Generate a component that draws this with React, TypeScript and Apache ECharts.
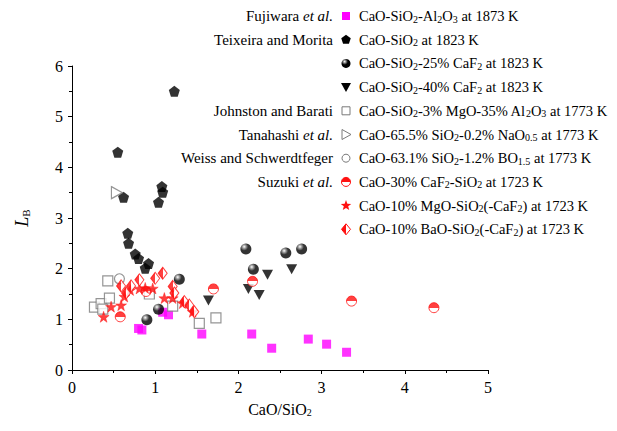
import React, { useEffect, useRef } from 'react';
import * as echarts from 'echarts';

// ---- data (CaO/SiO2, L_B) ----
const fujiwara = [[0.80, 0.82], [0.84, 0.79], [1.09, 1.14], [1.16, 1.09], [1.56, 0.71], [2.16, 0.71], [2.40, 0.43], [2.84, 0.61], [3.06, 0.51], [3.30, 0.35]];
const teixeira = [[0.55, 4.30], [0.62, 3.41], [0.67, 2.70], [0.68, 2.50], [0.76, 2.29], [0.80, 2.20], [0.92, 2.10], [0.88, 2.01], [1.04, 3.31], [1.08, 3.62], [1.09, 3.51], [1.23, 5.50]];
const caf25 = [[0.90, 0.99], [1.04, 1.20], [1.29, 1.79], [2.09, 2.39], [2.18, 1.99], [2.57, 2.31], [2.76, 2.39]];
const caf40 = [[1.64, 1.37], [2.12, 1.60], [2.25, 1.48], [2.35, 1.88], [2.64, 1.99]];
const johnston = [[0.27, 1.24], [0.35, 1.31], [0.37, 1.20], [0.45, 1.42], [0.43, 1.76], [0.93, 1.50], [1.21, 1.26], [1.53, 0.92], [1.73, 1.03]];
const tanahashi = [[0.54, 3.50]];
const weiss = [[0.57, 1.80]];
const suzuki = [[0.58, 1.05], [0.89, 1.55], [1.70, 1.60], [2.17, 1.75], [3.36, 1.36], [4.35, 1.23]];
const mgoStars = [[0.38, 1.05], [0.47, 1.25], [0.59, 1.28], [0.63, 1.45], [0.70, 1.58], [0.81, 1.61], [0.88, 1.62], [0.97, 1.61], [1.11, 1.42], [1.21, 1.42], [1.33, 1.32], [1.45, 1.15]];
const baoDiamonds = [[0.59, 1.66], [0.65, 1.52], [0.71, 1.66], [0.81, 1.78], [1.00, 1.81], [1.09, 1.91], [1.21, 1.65], [1.23, 1.52], [1.35, 1.35], [1.41, 1.28], [1.47, 1.15]];

const authors = ['Fujiwara {it|et al.}', 'Teixeira and Morita', '', '', 'Johnston and Barati', 'Tanahashi {it|et al.}', 'Weiss and Schwerdtfeger', 'Suzuki {it|et al.}', '', ''];
const labels = [
  'CaO-SiO{s|2}-Al{s|2}O{s|3} at 1873 K',
  'CaO-SiO{s|2} at 1823 K',
  'CaO-SiO{s|2}-25% CaF{s|2} at 1823 K',
  'CaO-SiO{s|2}-40% CaF{s|2} at 1823 K',
  'CaO-SiO{s|2}-3% MgO-35% Al{s|2}O{s|3} at 1773 K',
  'CaO-65.5% SiO{s|2}-0.2% NaO{s|0.5} at 1773 K',
  'CaO-63.1% SiO{s|2}-1.2% BO{s|1.5} at 1773 K',
  'CaO-30% CaF{s|2}-SiO{s|2} at 1723 K',
  'CaO-10% MgO-SiO{s|2}(-CaF{s|2}) at 1723 K',
  'CaO-10% BaO-SiO{s|2}(-CaF{s|2}) at 1723 K',
];
const xTicks = [0, 1, 2, 3, 4, 5];
const yTicks = [0, 1, 2, 3, 4, 5, 6];

const FONT = '"Liberation Serif", "Times New Roman", serif';
const RED = '#ff1010';
const GREY = '#7a7a7a';

const PENT = 'path://M5,0 L9.76,3.45 L7.94,9.05 L2.06,9.05 L0.24,3.45 Z';
const STAR = 'path://M50,0 L61.8,35 L98,35 L69,57 L79.4,91 L50,70 L20.6,91 L31,57 L2,35 L38.2,35 Z';
const DOWNTRI = 'path://M0,0 L10,0 L5,9 Z';
const RIGHTTRI = 'path://M0,0 L10,5 L0,10 Z';

const ballGrad = () => new echarts.graphic.RadialGradient(0.35, 0.3, 0.6, [
  { offset: 0, color: '#ffffff' }, { offset: 0.3, color: '#777' }, { offset: 0.6, color: '#000' }, { offset: 1, color: '#000' },
]);
const halfV = () => new echarts.graphic.LinearGradient(0, 0, 0, 1, [
  { offset: 0, color: RED }, { offset: 0.5, color: RED }, { offset: 0.5, color: '#fff' }, { offset: 1, color: '#fff' },
]);
const halfH = () => new echarts.graphic.LinearGradient(0, 0, 1, 0, [
  { offset: 0, color: RED }, { offset: 0.5, color: RED }, { offset: 0.5, color: '#fff' }, { offset: 1, color: '#fff' },
]);

function polyPts(cx: number, cy: number, r: number, n: number, rot: number, inner?: number) {
  const pts: number[][] = [];
  const m = inner ? n * 2 : n;
  for (let i = 0; i < m; i++) {
    const a = rot + (i * 2 * Math.PI) / m;
    const rr = inner && i % 2 === 1 ? inner : r;
    pts.push([cx + rr * Math.cos(a), cy + rr * Math.sin(a)]);
  }
  return pts;
}

export default function App() {
  const ref = useRef<HTMLDivElement>(null);
  useEffect(() => {
    const chart = echarts.init(ref.current!, null, { renderer: 'svg' });
    const rowY = (i: number) => 16 + i * 23.7;
    const symX = 346;
    const richFor = (size: number) => ({
      s: { fontSize: Math.round(size * 0.66), lineHeight: 9, verticalAlign: 'bottom', fontFamily: FONT, fill: '#000', color: '#000' },
      it: { fontStyle: 'italic', fontSize: size, fontFamily: FONT, fill: '#000', color: '#000' },
    });
    const graphic: any[] = [];
    labels.forEach((t, i) => {
      graphic.push({
        type: 'text', x: 359, y: rowY(i),
        style: { text: t, fontSize: 14.5, lineHeight: 16, fontFamily: FONT, fill: '#000', align: 'left', verticalAlign: 'middle', textAlign: 'left', textVerticalAlign: 'middle', rich: richFor(14.5) },
      });
      if (authors[i]) {
        graphic.push({
          type: 'text', x: 333, y: rowY(i),
          style: { text: authors[i], fontSize: 15, lineHeight: 16, fontFamily: FONT, fill: '#000', align: 'right', verticalAlign: 'middle', textAlign: 'right', textVerticalAlign: 'middle', rich: richFor(15) },
        });
      }
    });
    // legend symbols
    graphic.push({ type: 'rect', shape: { x: symX - 4, y: rowY(0) - 4, width: 8, height: 8 }, style: { fill: '#ff00ff' } });
    graphic.push({ type: 'polygon', shape: { points: polyPts(symX, rowY(1), 5, 5, -Math.PI / 2) }, style: { fill: '#000' } });
    graphic.push({ type: 'circle', shape: { cx: symX, cy: rowY(2), r: 4.5 }, style: { fill: ballGrad() } });
    graphic.push({ type: 'polygon', shape: { points: [[symX - 5, rowY(3) - 4], [symX + 5, rowY(3) - 4], [symX, rowY(3) + 5]] }, style: { fill: '#000' } });
    graphic.push({ type: 'rect', shape: { x: symX - 4, y: rowY(4) - 4, width: 8, height: 8 }, style: { fill: '#fff', stroke: GREY, lineWidth: 1 } });
    graphic.push({ type: 'polygon', shape: { points: [[symX - 4, rowY(5) - 5], [symX + 5, rowY(5)], [symX - 4, rowY(5) + 5]] }, style: { fill: '#fff', stroke: GREY, lineWidth: 1 } });
    graphic.push({ type: 'circle', shape: { cx: symX, cy: rowY(6), r: 4 }, style: { fill: '#fff', stroke: GREY, lineWidth: 1 } });
    graphic.push({ type: 'circle', shape: { cx: symX, cy: rowY(7), r: 4.5 }, style: { fill: halfV(), stroke: RED, lineWidth: 1 } });
    graphic.push({ type: 'polygon', shape: { points: polyPts(symX, rowY(8), 5.5, 5, -Math.PI / 2, 2.3) }, style: { fill: RED } });
    graphic.push({ type: 'polygon', shape: { points: [[symX, rowY(9) - 5.5], [symX + 4.5, rowY(9)], [symX, rowY(9) + 5.5], [symX - 4.5, rowY(9)]] }, style: { fill: halfH(), stroke: RED, lineWidth: 1 } });

    const option: any = {
      animation: false,
      backgroundColor: '#fff',
      grid: { left: 72, right: 129, top: 66, bottom: 61, containLabel: false },
      xAxis: {
        type: 'value', min: xTicks[0], max: xTicks[xTicks.length - 1], interval: 1,
        name: 'CaO/SiO{s|2}', nameLocation: 'middle', nameGap: 31,
        nameTextStyle: { fontFamily: FONT, fontSize: 16, color: '#000', rich: { s: { fontSize: 10, verticalAlign: 'bottom', lineHeight: 10, fontFamily: FONT, color: '#000' } } },
        axisLine: { show: true, lineStyle: { color: '#000', width: 1 } },
        axisTick: { show: true, length: 4, lineStyle: { color: '#000' } },
        minorTick: { show: true, splitNumber: 2, length: 3, lineStyle: { color: '#000' } },
        axisLabel: { fontFamily: FONT, fontSize: 16, color: '#000', margin: 9 },
        splitLine: { show: false },
      },
      yAxis: {
        type: 'value', min: yTicks[0], max: yTicks[yTicks.length - 1], interval: 1,
        name: '{i|L}{s|B}', nameLocation: 'middle', nameGap: 41, nameRotate: 90,
        nameTextStyle: {
          fontFamily: FONT, fontSize: 18, color: '#000',
          rich: {
            i: { fontStyle: 'italic', fontSize: 18, fontFamily: FONT, color: '#000' },
            s: { fontSize: 11, verticalAlign: 'bottom', lineHeight: 11, fontFamily: FONT, color: '#000' },
          },
        },
        axisLine: { show: true, lineStyle: { color: '#000', width: 1 } },
        axisTick: { show: true, length: 4, lineStyle: { color: '#000' } },
        minorTick: { show: true, splitNumber: 2, length: 3, lineStyle: { color: '#000' } },
        axisLabel: { fontFamily: FONT, fontSize: 16, color: '#000', margin: 9 },
        splitLine: { show: false },
      },
      graphic,
      series: [
        { name: 'Fujiwara', type: 'scatter', data: fujiwara, symbol: 'rect', symbolSize: 9, itemStyle: { color: '#ff00ff' } },
        { name: 'Teixeira', type: 'scatter', data: teixeira, symbol: PENT, symbolSize: 11, itemStyle: { color: '#000' } },
        { name: 'CaF2 25', type: 'scatter', data: caf25, symbol: 'circle', symbolSize: 11, itemStyle: { color: ballGrad() } },
        { name: 'CaF2 40', type: 'scatter', data: caf40, symbol: DOWNTRI, symbolSize: [11, 10], itemStyle: { color: '#000' } },
        { name: 'Johnston', type: 'scatter', data: johnston, symbol: 'rect', symbolSize: 10, itemStyle: { color: '#fff', borderColor: GREY, borderWidth: 1.2 } },
        { name: 'Tanahashi', type: 'scatter', data: tanahashi, symbol: RIGHTTRI, symbolSize: [11, 12], itemStyle: { color: '#fff', borderColor: GREY, borderWidth: 1.2 } },
        { name: 'Weiss', type: 'scatter', data: weiss, symbol: 'circle', symbolSize: 10, itemStyle: { color: '#fff', borderColor: GREY, borderWidth: 1.2 } },
        { name: 'Suzuki', type: 'scatter', data: suzuki, symbol: 'circle', symbolSize: 10, itemStyle: { color: halfV(), borderColor: RED, borderWidth: 1 } },
        { name: 'MgO', type: 'scatter', data: mgoStars, symbol: STAR, symbolSize: 11, itemStyle: { color: RED, borderColor: RED, borderWidth: 0.5 } },
        { name: 'BaO', type: 'scatter', data: baoDiamonds, symbol: 'diamond', symbolSize: [9, 12], itemStyle: { color: halfH(), borderColor: RED, borderWidth: 1 } },
      ],
    };
    chart.setOption(option);
    return () => chart.dispose();
  }, []);
  return <div ref={ref} style={{ position: 'fixed', left: 0, top: 0, width: 617, height: 431, background: '#fff' }} />;
}
